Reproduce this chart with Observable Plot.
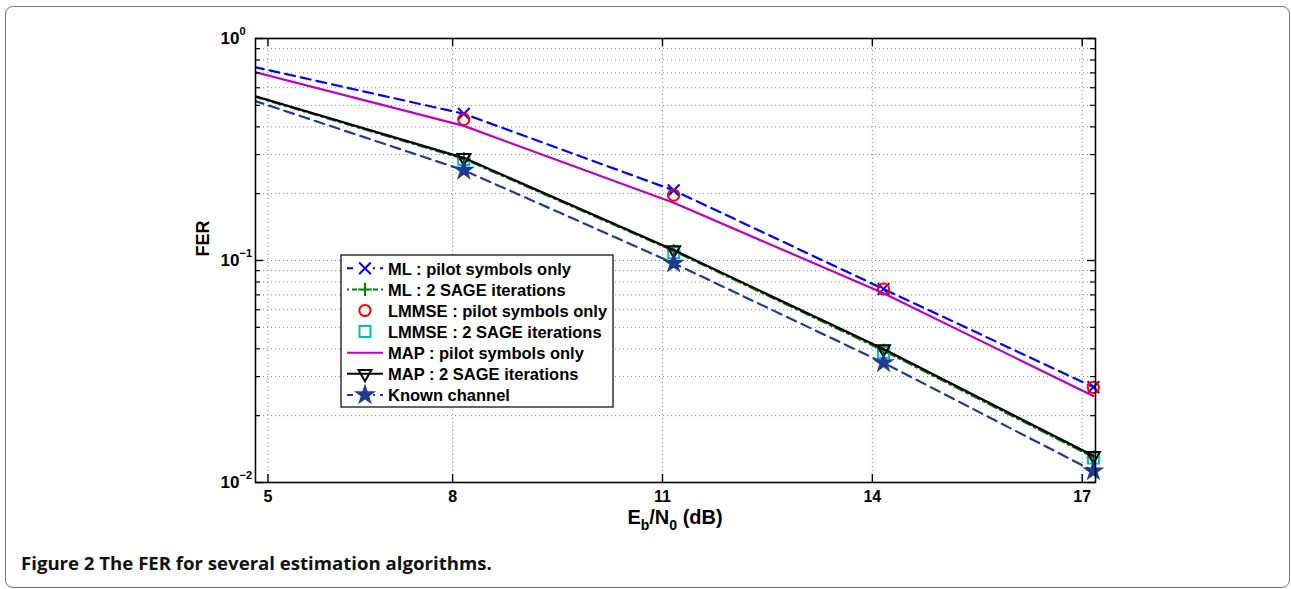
<!DOCTYPE html>
<html><head><meta charset="utf-8">
<script src="https://cdn.jsdelivr.net/npm/d3@7"></script>
<script src="https://cdn.jsdelivr.net/npm/@observablehq/plot@0.6"></script>
<style>
html,body{margin:0;padding:0;background:#fff;}
#fig{position:relative;width:1291px;height:589px;overflow:hidden;}
#chart{position:absolute;left:0;top:0;}
#border{position:absolute;left:5px;top:6px;width:1285px;height:582px;border:1.5px solid #777;border-radius:8px;box-sizing:border-box;pointer-events:none;}
#cap{position:absolute;left:21px;top:553px;font-family:"Open Sans",sans-serif;font-size:18.6px;line-height:20px;color:#111;white-space:nowrap;font-weight:700;}
</style></head><body>
<div id="fig"><div id="chart"></div><div id="border"></div>
<div id="cap"><span>Figure 2</span> <span>The FER for several estimation algorithms.</span></div></div>
<script>
// ---- data ----
const ebn0 = [5.16, 8.16, 11.16, 14.16, 17.16];
const mlPilot    = [0.745, 0.458, 0.207, 0.0744, 0.0269];
const mlSage     = [0.548, 0.287, 0.1105, 0.0393, 0.0130];
const lmmsePilot = [0.720, 0.432, 0.197, 0.0744, 0.0268];
const lmmseSage  = [0.540, 0.285, 0.1085, 0.0385, 0.0129];
const mapPilot   = [0.707, 0.404, 0.182, 0.0712, 0.0245];
const mapSage    = [0.552, 0.290, 0.1115, 0.0399, 0.0132];
const known      = [0.525, 0.255, 0.0972, 0.0346, 0.01127];

const seriesNames = ["ML : pilot symbols only","ML : 2 SAGE iterations","LMMSE : pilot symbols only",
  "LMMSE : 2 SAGE iterations","MAP : pilot symbols only","MAP : 2 SAGE iterations","Known channel"];
const seriesValues = [mlPilot, mlSage, lmmsePilot, lmmseSage, mapPilot, mapSage, known];

const xTickVals = [5.36, 8, 11, 14, 17];
const xTickLabels = ["5", "8", "11", "14", "17"];
const yTickVals = [1, 0.1, 0.01];
const yTickBase = ["10", "10", "10"];
const yTickExp = ["0", "\u22121", "\u22122"];
const yMinorVals = [0.9,0.8,0.7,0.6,0.5,0.4,0.3,0.2,0.09,0.08,0.07,0.06,0.05,0.04,0.03,0.02];

// ---- styles ----
const styles = [
  {stroke:"#0000ff", dash:"10,6", symbol:"times", r:5.4, fill:"none", mstroke:"#0000ff", line:true},
  {stroke:"#008000", dash:"9,4,2,4", symbol:"plus", r:4.4, fill:"none", mstroke:"#008000", line:true},
  {stroke:"#ff0000", dash:null, symbol:"circle", r:5.6, fill:"none", mstroke:"#ff0000", line:false},
  {stroke:"#00bfbf", dash:null, symbol:"square", r:6.2, fill:"none", mstroke:"#00bfbf", line:false},
  {stroke:"#bf00bf", dash:null, symbol:null, r:0, fill:"none", mstroke:"#bf00bf", line:true},
  {stroke:"#000000", dash:null, symbol:"triangle", r:4.8, fill:"none", mstroke:"#000000", line:true, rotate:180},
  {stroke:"#1f3a93", dash:"10,6", symbol:"star", r:5.0, fill:"#1f3a93", mstroke:"#1f3a93", line:true}
];

const W = 1291, H = 540;
const mL = 255, mR = 196, mT = 38, mB = 58;
const xDomain = [5.182, 17.19];
const frameW = W - mL - mR, frameH = H - mT - mB;

const rows = seriesNames.map((name, s) => ebn0.map((x, i) => ({series: name, s, x, y: seriesValues[s][i]})));

const font = "'Liberation Sans', Arial, Helvetica, sans-serif";
const marks = [
  Plot.gridX(xTickVals, {stroke:"#888", strokeOpacity:1, strokeWidth:1, strokeDasharray:"1,3"}),
  Plot.gridY(yMinorVals.concat([0.1]), {stroke:"#888", strokeOpacity:1, strokeWidth:1, strokeDasharray:"1,3"})
];
rows.forEach((data, s) => {
  const st = styles[s];
  if (st.line) marks.push(Plot.line(data, {x:"x", y:"y", stroke: st.stroke, strokeWidth: 2.2, strokeDasharray: st.dash || undefined, clip: true}));
  if (st.symbol) marks.push(Plot.dot(data.filter(d => d.x >= xDomain[0]), {x:"x", y:"y", symbol: st.symbol, r: st.r,
    stroke: st.mstroke, fill: st.fill, strokeWidth: 2, rotate: st.rotate || 0}));
});
marks.push(
  Plot.frame({stroke:"#000", strokeWidth:1.6}),
  Plot.tickX(xTickVals, {x: d => d, insetTop: frameH - 8, stroke:"#000", strokeWidth:1.4}),
  Plot.tickX(xTickVals, {x: d => d, insetBottom: frameH - 8, stroke:"#000", strokeWidth:1.4}),
  Plot.tickY(yTickVals, {y: d => d, insetRight: frameW - 8, stroke:"#000", strokeWidth:1.4}),
  Plot.tickY(yTickVals, {y: d => d, insetLeft: frameW - 8, stroke:"#000", strokeWidth:1.4}),
  Plot.tickY(yMinorVals, {y: d => d, insetRight: frameW - 5, stroke:"#000", strokeWidth:1.2}),
  Plot.tickY(yMinorVals, {y: d => d, insetLeft: frameW - 5, stroke:"#000", strokeWidth:1.2}),
  Plot.text(xTickVals.map((v, i) => ({v, t: xTickLabels[i]})), {x:"v", text:"t", frameAnchor:"bottom", lineAnchor:"top", dy: 8,
    fontSize: 16, fontWeight:"bold", fill:"#000"}),
  Plot.text(yTickVals.map((v, i) => ({v, t: yTickBase[i]})), {y:"v", text:"t", frameAnchor:"left", textAnchor:"end", dx:-16,
    fontSize: 17, fontWeight:"bold", fill:"#000"}),
  Plot.text(yTickVals.map((v, i) => ({v, t: yTickExp[i]})), {y:"v", text:"t", frameAnchor:"left", textAnchor:"start", dx:-16, dy:-7,
    fontSize: 11, fontWeight:"bold", fill:"#000"}),
  Plot.text(["FER"], {frameAnchor:"left", dx:-52, dy:-4, rotate:-90, text: d => d, fontSize: 18, fontWeight:"bold", fill:"#000"})
);

const chart = Plot.plot({
  width: W, height: H, marginLeft: mL, marginRight: mR, marginTop: mT, marginBottom: mB,
  style: {fontFamily: font, background: "#fff", color: "#000"},
  x: {domain: xDomain, axis: null},
  y: {type: "log", domain: [0.01, 1], axis: null},
  marks
});
document.getElementById("chart").appendChild(chart);

// x label with subscripts
const svg = d3.select(chart);
const xl = svg.append("text").attr("x", mL + frameW / 2).attr("y", 524).attr("text-anchor", "middle")
  .attr("font-family", font).attr("font-weight", "bold").attr("font-size", 20).attr("fill", "#000");
xl.append("tspan").text("E");
xl.append("tspan").attr("font-size", 14).attr("dy", 6).text("b");
xl.append("tspan").attr("dy", -6).text("/N");
xl.append("tspan").attr("font-size", 14).attr("dy", 6).text("0");
xl.append("tspan").attr("dy", -6).text(" (dB)");

// legend
const lg = svg.append("g").attr("text-anchor", "start");
const lx = 341, ly = 255, lw = 272, lh = 152, rowH = 21.1, row0 = 268.3;
lg.append("rect").attr("x", lx).attr("y", ly).attr("width", lw).attr("height", lh).attr("fill", "#fff").attr("stroke", "#000").attr("stroke-width", 1.2);
const symMap = {times: d3.symbolTimes, plus: d3.symbolPlus, circle: d3.symbolCircle, square: d3.symbolSquare, triangle: d3.symbolTriangle, star: d3.symbolStar};
seriesNames.forEach((name, s) => {
  const st = styles[s];
  const cy = row0 + s * rowH;
  if (st.line) lg.append("line").attr("x1", 347).attr("x2", 383).attr("y1", cy).attr("y2", cy)
    .attr("stroke", st.stroke).attr("stroke-width", 2).attr("stroke-dasharray", st.dash ? (s === 1 ? "2,3,9,3" : "6,5") : null);
  if (st.symbol) {
    if (st.line && s !== 5) lg.append("rect").attr("x", 357).attr("y", cy - 6).attr("width", 16).attr("height", 12).attr("fill", "#fff");
    lg.append("path").attr("d", d3.symbol(symMap[st.symbol], Math.PI * st.r * st.r)())
      .attr("transform", `translate(365,${cy}) rotate(${st.rotate || 0})`)
      .attr("fill", st.fill).attr("stroke", st.mstroke).attr("stroke-width", 2);
  }
  lg.append("text").attr("x", 388).attr("y", cy + 6.3).attr("text-anchor", "start").attr("font-family", font).attr("font-weight", "bold")
    .attr("font-size", 16.5).attr("fill", "#000").text(name);
});
</script>
</body></html>
